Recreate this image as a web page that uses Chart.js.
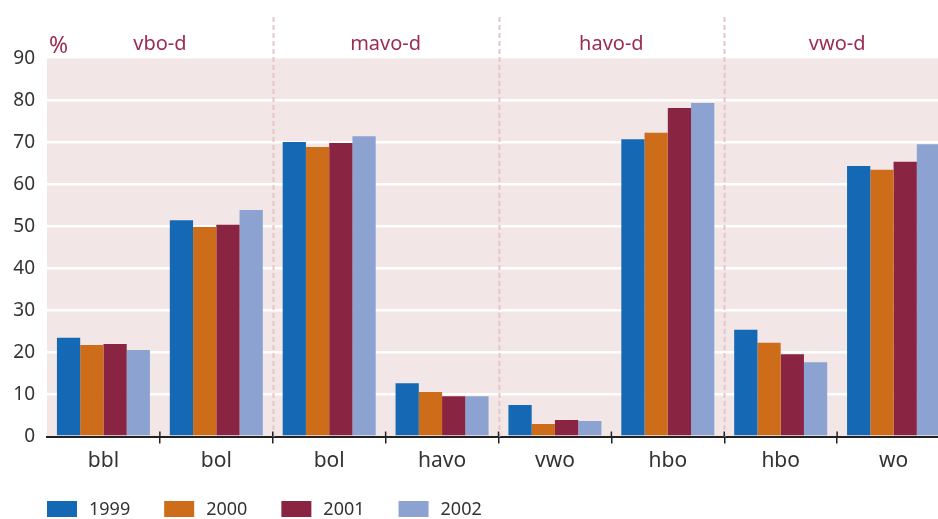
<!DOCTYPE html>
<html>
<head>
<meta charset="utf-8">
<script src="https://cdn.jsdelivr.net/npm/chart.js@4/dist/chart.umd.min.js"></script>
<style>
  html, body { margin: 0; padding: 0; background: #fff; overflow: hidden; }
  #wrap { width: 950px; height: 519px; }
</style>
</head>
<body>
<div id="wrap"><canvas id="chart" width="950" height="519"></canvas></div>
<script>
const categories = ['bbl', 'bol', 'bol', 'havo', 'vwo', 'hbo', 'hbo', 'wo'];
const groups = ['vbo-d', 'mavo-d', 'havo-d', 'vwo-d'];
const years = ['1999', '2000', '2001', '2002'];
const yTicks = [0, 10, 20, 30, 40, 50, 60, 70, 80, 90];

const v1999 = [23.5, 51.5, 70.1, 12.7, 7.5, 70.8, 25.4, 64.4];
const v2000 = [21.8, 49.9, 68.9, 10.6, 3.0, 72.3, 22.3, 63.5];
const v2001 = [22.0, 50.4, 69.9, 9.6, 3.9, 78.2, 19.6, 65.4];
const v2002 = [20.6, 53.9, 71.5, 9.6, 3.7, 79.4, 17.7, 69.6];

const colors = ['#1569b4', '#ce6d19', '#8a2443', '#8ca3d2'];
const FONT = '"Noto Sans", "Open Sans", sans-serif';
const ACCENT = '#9b2c52';

// pink band, group headers, dashed separators and legend
const decor = {
  id: 'decor',
  beforeDraw(chart) {
    const { ctx, chartArea: a } = chart;
    ctx.save();
    ctx.fillStyle = '#f2e6e7';
    ctx.fillRect(a.left, a.top, a.right - a.left, a.bottom - a.top);
    ctx.restore();
  },
  afterDatasetsDraw(chart) {
    const { ctx, chartArea: a, scales: { x } } = chart;
    ctx.save();
    ctx.strokeStyle = '#e6c6cb';
    ctx.lineWidth = 2;
    ctx.setLineDash([5, 3]);
    for (let i = 1; i < groups.length; i++) {
      const px = Math.round((x.getPixelForValue(2 * i - 1) + x.getPixelForValue(2 * i)) / 2) + 0.5;
      ctx.beginPath();
      ctx.moveTo(px, 17);
      ctx.lineTo(px, a.bottom);
      ctx.stroke();
    }
    ctx.setLineDash([]);

    // small tick stubs above the axis at category boundaries
    ctx.strokeStyle = '#222';
    ctx.lineWidth = 1.5;
    for (let i = 1; i < categories.length; i++) {
      const px = (x.getPixelForValue(i - 1) + x.getPixelForValue(i)) / 2;
      ctx.beginPath();
      ctx.moveTo(px, a.bottom - 5);
      ctx.lineTo(px, a.bottom);
      ctx.stroke();
    }

    ctx.fillStyle = ACCENT;
    ctx.font = '20px ' + FONT;
    ctx.textBaseline = 'middle';
    ctx.textAlign = 'center';
    groups.forEach((g, i) => {
      const cx = (x.getPixelForValue(2 * i) + x.getPixelForValue(2 * i + 1)) / 2;
      ctx.fillText(g, cx, 44);
    });
    ctx.textAlign = 'left';
    ctx.font = '23px ' + FONT;
    ctx.fillText('%', 49, 46);

    // legend
    ctx.font = '18px ' + FONT;
    let lx = 47;
    chart.data.datasets.forEach(ds => {
      ctx.fillStyle = ds.backgroundColor;
      ctx.fillRect(lx, 501, 30, 16);
      ctx.fillStyle = '#333';
      ctx.fillText(ds.label, lx + 42, 510);
      lx += 42 + ctx.measureText(ds.label).width + 34;
    });
    ctx.restore();
  }
};

new Chart(document.getElementById('chart'), {
  type: 'bar',
  data: {
    labels: categories,
    datasets: [v1999, v2000, v2001, v2002].map((d, i) => ({
      label: years[i],
      data: d,
      backgroundColor: colors[i],
      borderWidth: 0,
      categoryPercentage: 0.824,
      barPercentage: 1.0
    }))
  },
  options: {
    responsive: false,
    animation: false,
    devicePixelRatio: 1,
    layout: { padding: { top: 58.5, left: 0, right: 0, bottom: 0 } },
    plugins: { legend: { display: false }, tooltip: { enabled: false } },
    scales: {
      x: {
        offset: true,
        afterFit: s => { s.height = 82.5; },
        grid: {
          offset: true,
          drawOnChartArea: false,
          drawTicks: true,
          tickLength: 7,
          lineWidth: 1.5,
          color: c => c.index === 0 ? 'rgba(0,0,0,0)' : '#222'
        },
        border: { display: true, color: '#222', width: 2 },
        ticks: { color: '#333', font: { family: FONT, size: 21 }, padding: 5 }
      },
      y: {
        min: 0,
        max: 90,
        afterFit: s => { s.width = 47; },
        afterBuildTicks: s => { s.ticks = yTicks.map(v => ({ value: v })); },
        grid: {
          drawTicks: false,
          lineWidth: 2.5,
          color: c => (c.tick && (c.tick.value === 0 || c.tick.value === 90)) ? 'rgba(0,0,0,0)' : '#ffffff'
        },
        border: { display: false },
        ticks: { color: '#333', font: { family: FONT, size: 19 }, padding: 12 }
      }
    }
  },
  plugins: [decor]
});
</script>
</body>
</html>
